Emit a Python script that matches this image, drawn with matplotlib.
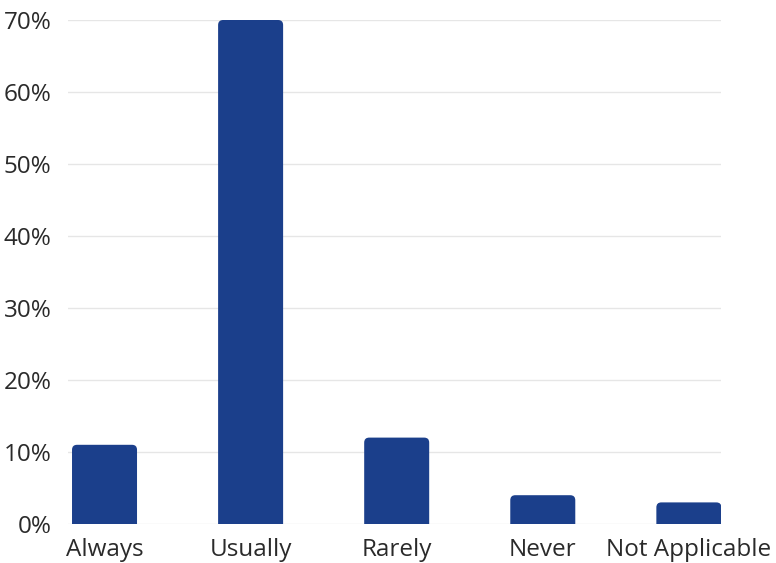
import numpy as np
import matplotlib.pyplot as plt
from matplotlib.patches import FancyBboxPatch

categories = ["Always", "Usually", "Rarely", "Never", "Not Applicable"]
values = [11, 70, 12, 4, 3]
yticks = [0, 10, 20, 30, 40, 50, 60, 70]

plt.rcParams['font.family'] = ['Open Sans', 'DejaVu Sans']

fig = plt.figure(figsize=(7.76, 5.63), dpi=100)
ax = fig.add_axes([68 / 776, 39 / 563, (721 - 68) / 776, (524 - 20) / 563])

x = np.arange(len(categories))
width = 0.445
bars = ax.bar(x, values, width=width, color="none", zorder=3)

# rounded top corners (bottom corners hidden below the axis)
x_px = 146.0   # pixels per category unit
y_px = 7.2     # pixels per percent
for b in bars:
    p = FancyBboxPatch((b.get_x(), -2), b.get_width(), b.get_height() + 2,
                       boxstyle="round,pad=0,rounding_size=%f" % (5 / x_px),
                       mutation_aspect=x_px / y_px,
                       facecolor="#1b3f8b", edgecolor="none", zorder=3)
    ax.add_patch(p)

ax.set_xlim(-0.25, 4.22)
ax.set_ylim(0, 70)
ax.set_yticks(yticks)
ax.set_yticklabels([f"{v}%" for v in yticks])
ax.set_xticks(x)
ax.set_xticklabels(categories)
ax.tick_params(length=0, labelsize=17.5, colors="#2a2a2a")
ax.tick_params(axis="y", pad=12)
ax.tick_params(axis="x", pad=10)

ax.grid(axis="y", color="#e6e6e6", linewidth=1, zorder=0)
for s in ax.spines.values():
    s.set_visible(False)

fig.savefig("out.png", dpi=100)
